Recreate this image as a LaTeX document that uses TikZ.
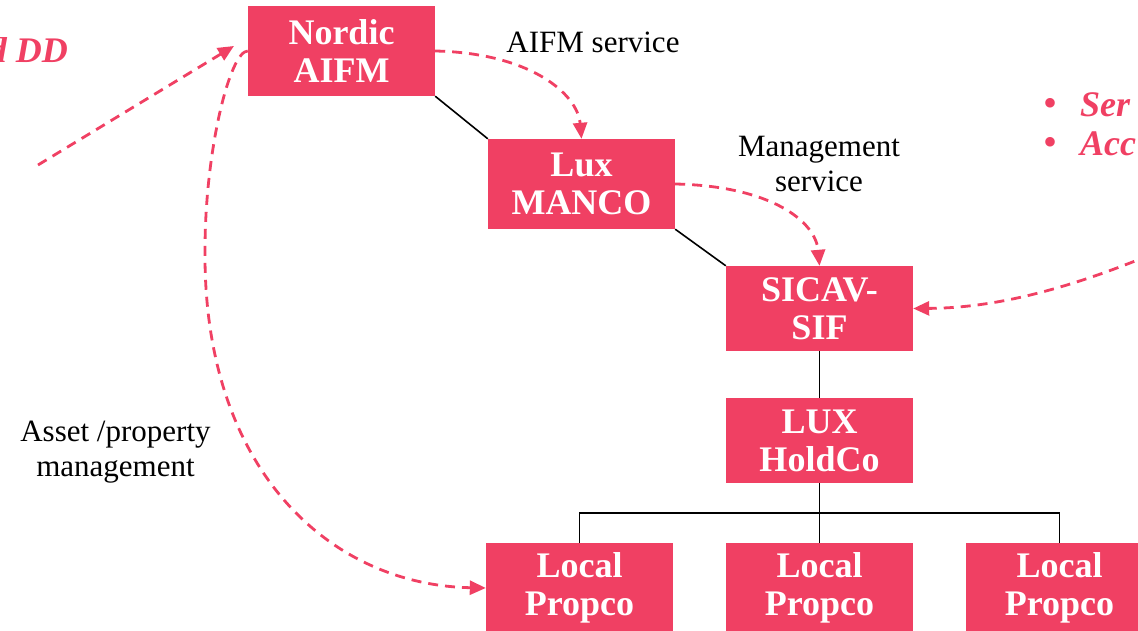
\documentclass[tikz,border=0pt]{standalone}
\usepackage{fontspec}
\setmainfont{Liberation Serif}
\usetikzlibrary{arrows.meta}
\definecolor{pinkc}{RGB}{240,64,99}
\tikzset{
  box/.style={fill=pinkc, text=white, inner sep=0pt, align=center,
    minimum width=187pt, font=\bfseries\fontsize{36}{38}\selectfont},
  tallbox/.style={box, minimum height=90pt},
  shortbox/.style={box, minimum height=85pt},
  lowbox/.style={tallbox, text depth=4pt},
  conn/.style={draw=black, line width=1.6pt},
  dasharrow/.style={draw=pinkc, line width=2.8pt, dash pattern=on 10pt off 7pt,
    -{Triangle[length=16pt,width=14pt]}},
  lbl/.style={align=center, text=black, inner sep=0pt, font=\fontsize{31}{35}\selectfont},
  pinktext/.style={text=pinkc, inner sep=0pt, font=\bfseries\itshape\fontsize{36}{38}\selectfont},
  bullet/.style={text=pinkc, inner sep=0pt, anchor=base, font=\fontsize{40}{40}\selectfont},
}
\begin{document}
\begin{tikzpicture}[x=1pt,y=-1pt]
\useasboundingbox (0,0) rectangle (1138,631);
% boxes
\node[tallbox] (nordic) at (341.5,51) {Nordic\\AIFM};
\node[tallbox] (manco) at (581.5,184) {Lux\\MANCO};
\node[shortbox] (sicav) at (819.5,308.5) {SICAV-\\SIF};
\node[shortbox] (holdco) at (819.5,440.5) {LUX\\HoldCo};
\node[tallbox] (p1) at (579.5,588) {Local\\Propco};
\node[tallbox] (p2) at (819.5,588) {Local\\Propco};
\node[tallbox] (p3) at (1059.5,588) {Local\\Propco};
% solid connectors
\draw[conn] (nordic.south east) -- (manco.north west);
\draw[conn] (manco.south east) -- (sicav.north west);
\draw[conn] (sicav.south) -- (holdco.north);
\coordinate (bar) at (819.5,513);
\draw[conn] (holdco.south) -- (p2.north);
\draw[conn] (p1.north) |- (bar) -| (p3.north);
% dashed arrows
\draw[dasharrow] (nordic.east) .. controls +(95,2) and +(-4,-45) .. (manco.north);
\draw[dasharrow] (manco.east) .. controls +(95,2) and +(-4,-45) .. (sicav.north);
\coordinate (rstart) at (1150,255);
\draw[dasharrow] (rstart) .. controls (1060,292) and (990,308) .. (sicav.east);
\coordinate (ddstart) at (38,165);
\coordinate (ddend) at (234,46);
\draw[dasharrow] (ddstart) -- (ddend);
\coordinate (bend) at (205,250);
\draw[dasharrow] (nordic.west) .. controls (230,51) and (205,150) .. (bend)
   .. controls (203,470) and (330,585) .. (p1.west);
% labels
\node[lbl, anchor=base] (l1) at (593,53) {AIFM service};
\node[lbl] (l2) at (819,164) {Management\\service};
\node[lbl] (l3) at (115.5,452) {Asset /property\\management};
% pink texts
\node[pinktext, anchor=base east] (dd) at (68,63) {d DD};
\node[bullet] (b1) at (1050,117) {•};
\node[bullet] (b2) at (1050,156) {•};
\node[pinktext, anchor=base west] (s1) at (1080,117) {Ser};
\node[pinktext, anchor=base west] (s2) at (1080,156) {Acc};
\end{tikzpicture}
\end{document}
